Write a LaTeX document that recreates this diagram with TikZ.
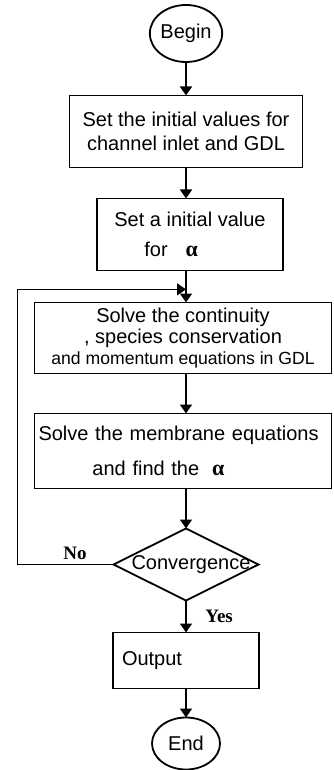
\documentclass[tikz,border=0pt]{standalone}
\usepackage{fontspec}
\usepackage{tikz}
\usetikzlibrary{arrows.meta,positioning,shapes.geometric,calc}
\setmainfont{Liberation Sans}
\newfontfamily\labelserif{Liberation Serif}
\newcommand{\alphaglyph}{{\labelserif\bfseries\fontsize{11}{11}\selectfont α}}

\begin{document}
\begin{tikzpicture}[
	node distance=16pt,
	box/.style={draw, line width=0.9pt, outer sep=0pt, minimum height=36pt, align=center, inner sep=2pt, font=\fontsize{10}{12}\selectfont},
	term/.style={draw, ellipse, line width=0.9pt, outer sep=0pt, inner sep=0pt, font=\fontsize{10}{12}\selectfont},
	cond/.style={draw, diamond, line width=0.9pt, outer sep=0pt, inner sep=0pt, minimum width=72.5pt, minimum height=36pt, font=\fontsize{10}{12}\selectfont},
	yn/.style={font=\labelserif\bfseries\fontsize{9.5}{11}\selectfont},
	arr/.style={-{Triangle[length=4.5pt,width=6pt]}, line width=0.75pt}
	]
	\useasboundingbox (0,0) rectangle (166.5pt,-385pt);
	
	\node[term, minimum width=35pt, minimum height=28.5pt] (begin) at (93pt,-16.75pt) {Begin};
	\node[box, below=16.75pt of begin, minimum width=116.5pt] (init) {Set the initial values for\\channel inlet and GDL};
	\node[box, below=15.5pt of init, xshift=2pt, minimum width=93pt, align=left] (guess) {Set a initial value\\[3pt]\hspace*{15pt}for\hspace{9pt}\alphaglyph};
	\node[box, below=16pt of guess, xshift=-3.5pt, minimum width=148.5pt, minimum height=35.5pt, font=\fontsize{10}{10.5}\selectfont] (solve) {Solve the continuity\\, species conservation\\{\fontsize{8.8}{11}\selectfont and momentum equations in GDL}};
	\node[box, below=20pt of solve, minimum width=148.5pt, minimum height=37.5pt, text width=144.5pt, align=left] (memb) {Solve the membrane equations\\[5.5pt]\hspace*{27pt}and find the\hspace{6.5pt}\alphaglyph};
	\node[cond, below=20pt of memb, xshift=1.5pt] (conv) {\makebox[0pt]{\hspace{5pt}Convergence}};
	\node[box, below=16pt of conv, minimum width=73pt, minimum height=28pt, text width=64pt, inner xsep=4.5pt, align=left] (out) {Output};
	\node[term, below=14.5pt of out, minimum width=34pt, minimum height=26pt] (stop) {End};
	
	\coordinate (join) at ($(guess.south -| init)!0.59!(solve.north -| init)$);
	
	\draw[arr] (begin) -- (init);
	\draw[arr] (init) -- (init |- guess.north);
	\draw[arr] (guess.south -| init) -- (solve.north -| init);
	\draw[arr] (solve.south -| init) -- (memb.north -| init);
	\draw[arr] (memb.south -| init) -- (conv.north);
	\draw[arr] (conv) -- node[yn, right=6pt] {Yes} (out);
	\draw[arr] (out) -- (stop);
	\draw[arr] (conv.west) -- ++(-48pt,0) node[yn, pos=0.4, above, inner sep=2pt] {No} |- (join);
\end{tikzpicture}
\end{document}
